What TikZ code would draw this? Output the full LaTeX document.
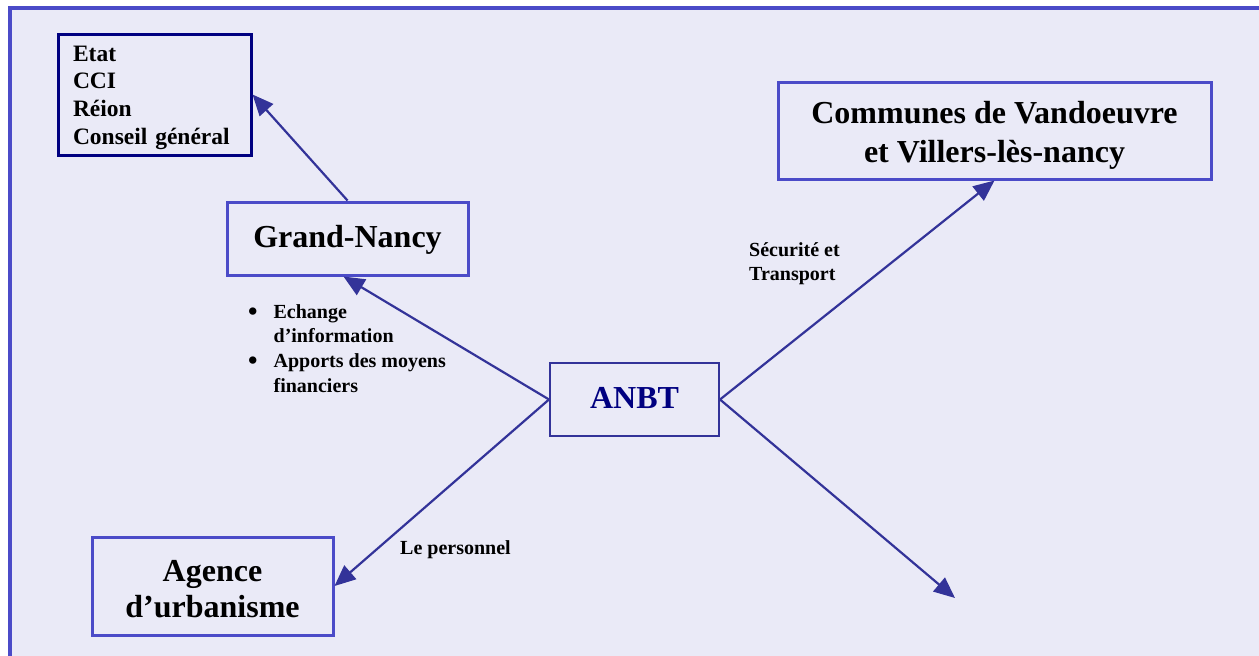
\documentclass[tikz,border=0pt]{standalone}
\usepackage{fontspec}
\setmainfont{Liberation Serif}
\usetikzlibrary{arrows.meta}
\definecolor{bg}{HTML}{EAEAF7}
\definecolor{framec}{HTML}{4B4BC8}
\definecolor{arr}{HTML}{333399}
\definecolor{navyc}{HTML}{000080}
\newcommand{\bigbul}{\raisebox{-2.5pt}{\fontsize{27}{24}\selectfont\textbullet}}
\begin{document}
\begin{tikzpicture}[x=1pt,y=-1pt,
  bigbox/.style={draw=framec, line width=3pt, inner sep=0pt},
  bigtext/.style={align=center, inner sep=0pt, font=\fontsize{32}{38.5}\selectfont\bfseries},
  link/.style={draw=arr, line width=2.2pt, -{Triangle[length=21pt,width=18pt]}},
  lbl/.style={inner sep=0pt, font=\fontsize{20}{24.7}\selectfont\bfseries}]
\useasboundingbox (0,0) rectangle (1259,656);
\fill[white] (0,0) rectangle (1259,656);
\fill[bg] (10,8) rectangle (1259,656);
\draw[framec, line width=3.5pt] (10,656) -- (10,8) -- (1259,8);

\node[draw=navyc, line width=3pt, minimum width=193pt, minimum height=121pt, inner sep=0pt]
  (tl) at (154.5,94.5) {};
\node[text width=163pt, align=left, inner sep=0pt,
  font=\fontsize{23.5}{27.7}\selectfont\bfseries] (tlt) at ([yshift=-3pt]tl.center)
  {Etat\\CCI\\Réion\\Conseil général};
\node[bigbox, minimum width=241pt, minimum height=73pt] (gn) at (347.5,238.5) {};
\node[bigtext] (gnt) at ([yshift=-1pt]gn.center) {Grand-Nancy};
\node[draw=arr, line width=2pt, minimum width=169pt, minimum height=73pt, inner sep=0pt]
  (anbt) at (634.5,399.5) {};
\node[inner sep=0pt, text=navyc, font=\fontsize{32}{38}\selectfont\bfseries] (anbtt)
  at ([yshift=2pt]anbt.center) {ANBT};
\node[bigbox, minimum width=433pt, minimum height=97pt] (com) at (994.5,130.5) {};
\node[bigtext] (comt) at ([yshift=-5pt]com.center) {Communes de Vandoeuvre\\et Villers-lès-nancy};
\node[bigbox, minimum width=241pt, minimum height=98pt] (ag) at (212.5,586) {};
\node[bigtext, font=\fontsize{32}{36}\selectfont\bfseries] (agt) at ([yshift=-3pt]ag.center)
  {Agence\\d’urbanisme};
\coordinate (free) at (955,598);

\draw[link] (gn.north) -- (tl.east);
\draw[link] (anbt.west) -- ([xshift=-4pt]gn.south);
\draw[link] (anbt.west) -- (ag.east);
\draw[link] (anbt.east) -- (com.south);
\draw[link] (anbt.east) -- (free);

\node[lbl, anchor=base west] (bul) at (248,318)
  {\begin{tabular}[t]{@{}l@{\hspace{16pt}}l@{}}\bigbul & Echange\\ & d’information\\
   \bigbul & Apports des moyens\\ & financiers\end{tabular}};
\node[lbl, anchor=base west] (sec) at (749,256)
  {\begin{tabular}[t]{@{}l@{}}Sécurité et\\Transport\end{tabular}};
\node[lbl, anchor=base west] (pers) at (400,554) {Le personnel};
\end{tikzpicture}
\end{document}
